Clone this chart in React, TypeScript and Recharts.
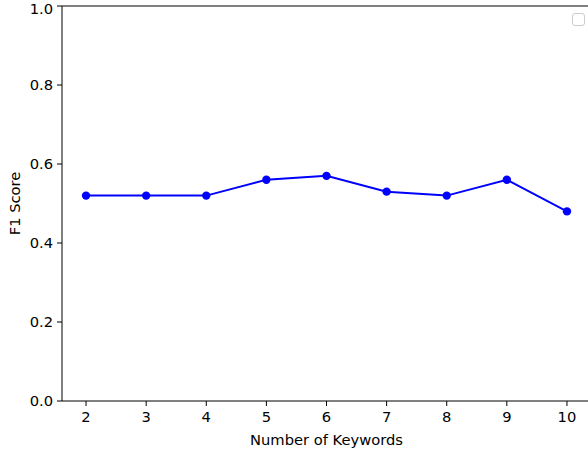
import { LineChart, Line, XAxis, YAxis, ReferenceLine } from "recharts";

const keywords = [2, 3, 4, 5, 6, 7, 8, 9, 10];
const f1Scores = [0.52, 0.52, 0.52, 0.56, 0.57, 0.53, 0.52, 0.56, 0.48];
const xTicks = [2, 3, 4, 5, 6, 7, 8, 9, 10];
const yTicks = [0, 0.2, 0.4, 0.6, 0.8, 1.0];

const data = keywords.map((k, i) => ({ k, f1: f1Scores[i] }));

const font = { fill: "#000", fontSize: 14.7, fontFamily: "DejaVu Sans" };

export default function App() {
  return (
    <div
      style={{
        position: "absolute",
        left: 0,
        top: 0,
        width: 588,
        height: 452,
        overflow: "hidden",
        background: "#fff",
      }}
    >
      <LineChart
        width={600}
        height={452}
        data={data}
        margin={{ top: 6, right: 9, bottom: 0, left: 0 }}
      >
        <XAxis
          dataKey="k"
          type="number"
          domain={[1.6, 10.4]}
          ticks={xTicks}
          height={51}
          tick={font}
          tickSize={5}
          tickMargin={6}
          axisLine={{ stroke: "#000", strokeWidth: 1 }}
          tickLine={{ stroke: "#000" }}
          label={{
            value: "Number of Keywords",
            position: "insideBottom",
            offset: 7,
            style: font,
          }}
        />
        <YAxis
          type="number"
          domain={[0, 1]}
          ticks={yTicks}
          width={62}
          tick={font}
          tickSize={5}
          tickMargin={4}
          tickFormatter={(v: number) => v.toFixed(1)}
          axisLine={{ stroke: "#000", strokeWidth: 1 }}
          tickLine={{ stroke: "#000" }}
          label={{
            value: "F1 Score",
            angle: -90,
            position: "insideLeft",
            offset: 15,
            style: { ...font, textAnchor: "middle" },
          }}
        />
        <ReferenceLine y={1} stroke="#000" strokeWidth={1} ifOverflow="visible" />
        <ReferenceLine x={10.4} stroke="#000" strokeWidth={1} ifOverflow="visible" />
        <Line
          dataKey="f1"
          stroke="#0000ff"
          strokeWidth={2}
          dot={{ r: 4.2, fill: "#0000ff", stroke: "none" }}
          activeDot={false}
          isAnimationActive={false}
          legendType="none"
        />
      </LineChart>
      {/* empty legend box, as in the source figure */}
      <div
        style={{
          position: "absolute",
          left: 572,
          top: 13,
          width: 11,
          height: 11,
          border: "1px solid #ccc",
          borderRadius: 3,
          background: "#fff",
        }}
      />
    </div>
  );
}
